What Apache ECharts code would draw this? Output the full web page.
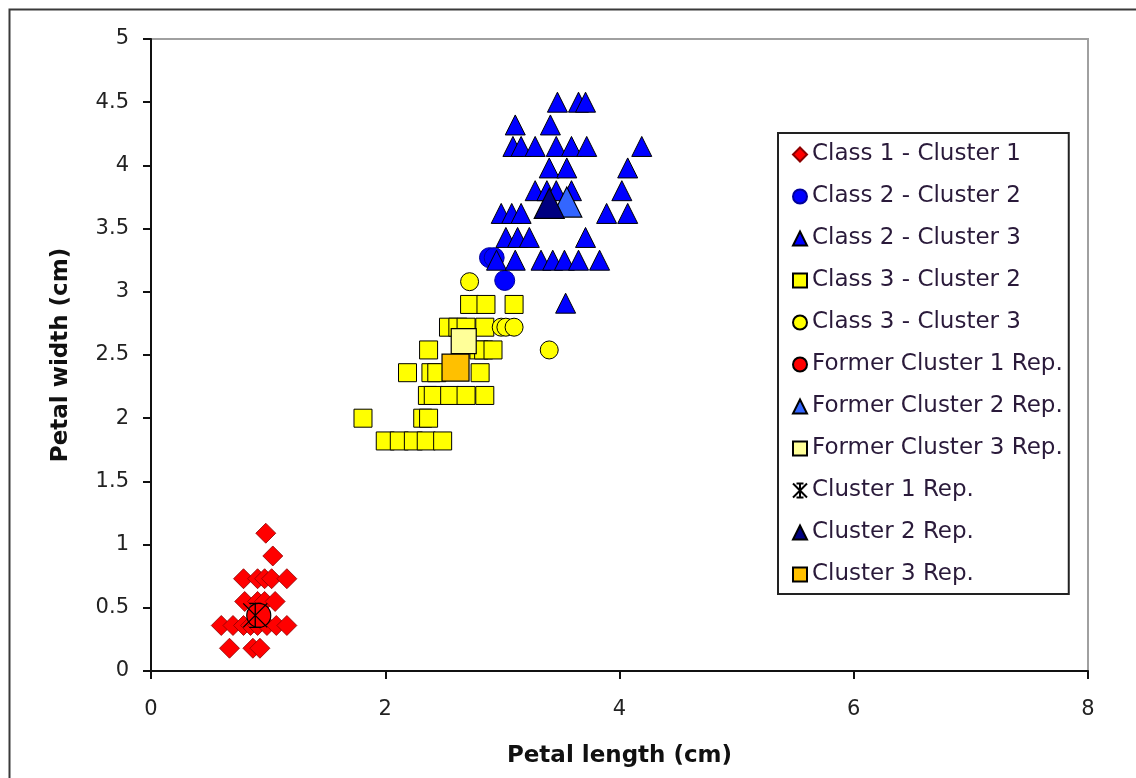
<!DOCTYPE html>
<html><head><meta charset="utf-8">
<script src="https://cdn.jsdelivr.net/npm/echarts@6/dist/echarts.min.js"></script>
<style>html,body{margin:0;padding:0;background:#fff}#c{width:1136px;height:778px}</style>
</head><body><div id="c"></div>
<script>
// ---- data (petal length, petal width) ----
const class1Cluster1 = [
  [0.98,1.09],[1.04,0.91],
  [0.79,0.73],[0.91,0.73],[0.97,0.73],[1.03,0.73],[1.16,0.73],
  [0.80,0.55],[0.91,0.55],[0.97,0.55],[1.06,0.55],
  [0.60,0.36],[0.70,0.36],[0.79,0.36],[0.85,0.36],[0.91,0.36],[0.99,0.36],[1.07,0.36],[1.16,0.36],
  [0.67,0.18],[0.87,0.18],[0.93,0.18]
];
const class2Cluster2 = [[2.89,3.27],[2.93,3.27],[3.02,3.09]];
const class2Cluster3 = [
  [3.47,4.50],[3.65,4.50],[3.71,4.50],
  [3.11,4.32],[3.41,4.32],
  [3.09,4.15],[3.16,4.15],[3.28,4.15],[3.46,4.15],[3.59,4.15],[3.72,4.15],[4.19,4.15],
  [3.40,3.98],[3.55,3.98],[4.07,3.98],
  [3.28,3.80],[3.38,3.80],[3.46,3.80],[3.59,3.80],[4.02,3.80],
  [2.99,3.62],[3.08,3.62],[3.16,3.62],[3.89,3.62],[4.07,3.62],
  [3.03,3.43],[3.13,3.43],[3.23,3.43],[3.71,3.43],
  [2.95,3.25],[3.11,3.25],[3.33,3.25],[3.43,3.25],[3.53,3.25],[3.65,3.25],[3.83,3.25],
  [3.54,2.91]
];
const class3Cluster2 = [
  [2.72,2.90],[2.86,2.90],[3.10,2.90],
  [2.54,2.72],[2.62,2.72],[2.69,2.72],[2.85,2.72],
  [2.37,2.54],[2.80,2.54],[2.84,2.54],[2.92,2.54],
  [2.19,2.36],[2.39,2.36],[2.44,2.36],[2.81,2.36],
  [2.36,2.18],[2.41,2.18],[2.55,2.18],[2.69,2.18],[2.85,2.18],
  [1.81,2.00],[2.32,2.00],[2.37,2.00],
  [2.00,1.82],[2.12,1.82],[2.24,1.82],[2.35,1.82],[2.49,1.82]
];
const class3Cluster3 = [[2.72,3.08],[2.99,2.72],[3.03,2.72],[3.10,2.72],[3.40,2.54]];
const formerCluster1Rep = [[0.92,0.44]];
const formerCluster2Rep = [[3.55,3.71]];
const formerCluster3Rep = [[2.67,2.61]];
const cluster1Rep = [[0.89,0.44]];
const cluster2Rep = [[3.40,3.70]];
const cluster3Rep = [[2.60,2.40]];

const seriesNames = ['Class 1 - Cluster 1','Class 2 - Cluster 2','Class 2 - Cluster 3','Class 3 - Cluster 2','Class 3 - Cluster 3',
  'Former Cluster 1 Rep.','Former Cluster 2 Rep.','Former Cluster 3 Rep.','Cluster 1 Rep.','Cluster 2 Rep.','Cluster 3 Rep.'];
const xRange = [0, 8, 2];
const yRange = [0, 5, 0.5];

const asterisk = 'path://M0,0L10,10M10,0L0,10M5,0L5,10M2.5,0L7.5,0M2.5,10L7.5,10';
const FONT = 'DejaVu Sans';

function sc(name, data, symbol, size, fill, border, bw) {
  return {
    name, type: 'scatter', data, symbol, symbolSize: size,
    itemStyle: { color: fill, borderColor: border, borderWidth: bw, opacity: 1 },
    emphasis: { disabled: true }
  };
}

const chart = echarts.init(document.getElementById('c'), null, { renderer: 'canvas' });
chart.setOption({
  animation: false,
  backgroundColor: '#fff',
  graphic: [{
    type: 'rect', left: 7, top: 7, z: 100, silent: true,
    shape: { x: 0, y: 0, width: 1200, height: 800 },
    style: { fill: 'none', stroke: '#3a3a3a', lineWidth: 2 }
  }],
  grid: { left: 151, right: 48, top: 39, bottom: 107, show: true, borderColor: '#a0a0a0', borderWidth: 2, backgroundColor: 'transparent' },
  xAxis: {
    type: 'value', min: xRange[0], max: xRange[1], interval: xRange[2],
    name: 'Petal length (cm)', nameLocation: 'middle', nameGap: 74,
    nameTextStyle: { fontFamily: FONT, fontWeight: 'bold', fontSize: 23, color: '#111' },
    axisLine: { show: true, onZero: false, lineStyle: { color: '#111', width: 2 } },
    axisTick: { show: true, inside: false, length: 8, lineStyle: { color: '#111', width: 2 } },
    axisLabel: { fontFamily: FONT, fontSize: 21, color: '#222', margin: 28 },
    splitLine: { show: false }
  },
  yAxis: {
    type: 'value', min: yRange[0], max: yRange[1], interval: yRange[2],
    name: 'Petal width (cm)', nameLocation: 'middle', nameGap: 78,
    nameTextStyle: { fontFamily: FONT, fontWeight: 'bold', fontSize: 23, color: '#111' },
    axisLine: { show: true, onZero: false, lineStyle: { color: '#111', width: 2 } },
    axisTick: { show: true, inside: false, length: 8, lineStyle: { color: '#111', width: 2 } },
    axisLabel: { fontFamily: FONT, fontSize: 21, color: '#222', margin: 22 },
    splitLine: { show: false }
  },
  legend: {
    orient: 'vertical', left: 778, top: 133,
    data: seriesNames,
    itemWidth: 14, itemHeight: 14, itemGap: 19,
    padding: [10, 6, 8, 14],
    borderColor: '#222', borderWidth: 2, backgroundColor: '#fff',
    textStyle: { fontFamily: FONT, fontSize: 23, color: '#2a1a3a', lineHeight: 23 },
    selectedMode: false
  },
  series: [
    sc(seriesNames[0], class1Cluster1, 'diamond', 20, '#ff0000', '#8b0000', 0.8),
    sc(seriesNames[1], class2Cluster2, 'circle', 20, '#0000ff', '#000099', 1),
    sc(seriesNames[2], class2Cluster3, 'triangle', 20, '#0000ff', '#000000', 1),
    sc(seriesNames[3], class3Cluster2, 'rect', 18, '#ffff00', '#000000', 1),
    sc(seriesNames[4], class3Cluster3, 'circle', 18, '#ffff00', '#000000', 1),
    sc(seriesNames[5], formerCluster1Rep, 'circle', 24, '#ff0000', '#000000', 1.2),
    sc(seriesNames[6], formerCluster2Rep, 'triangle', 30, '#3366ff', '#000000', 1.2),
    sc(seriesNames[7], formerCluster3Rep, 'rect', 25, '#ffff99', '#000000', 1.2),
    sc(seriesNames[8], cluster1Rep, asterisk, 24, 'rgba(0,0,0,0)', '#000000', 1.3),
    sc(seriesNames[9], cluster2Rep, 'triangle', 30, '#000080', '#000000', 1.2),
    sc(seriesNames[10], cluster3Rep, 'rect', 27, '#ffc000', '#000000', 1.2)
  ]
});
</script></body></html>
